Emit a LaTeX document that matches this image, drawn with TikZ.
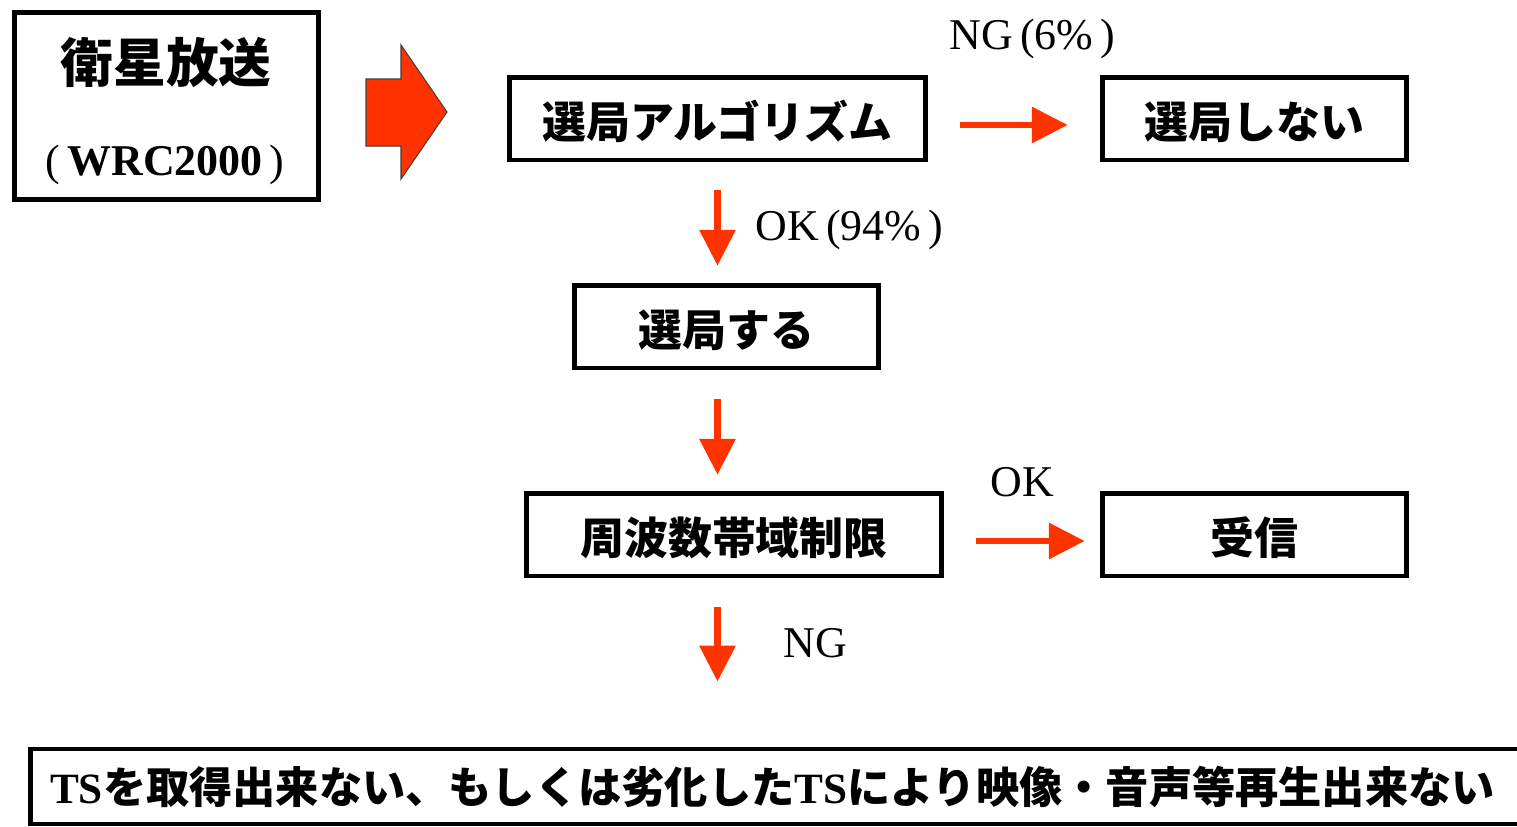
\documentclass[tikz,border=0pt]{standalone}
\usepackage{fontspec}
\setmainfont{Liberation Serif}
\newfontfamily\jp{Noto Sans CJK JP}
\usetikzlibrary{arrows.meta,calc}
\definecolor{arrred}{HTML}{FF3300}
\newcommand\latb[1]{{\rmfamily\bfseries #1}}
\begin{document}
\begin{tikzpicture}[x=0.02cm,y=-0.02cm,
  box/.style={draw=black, line width=0.09cm, inner sep=0pt, minimum height=1.65cm,
    text height=0.81cm, text depth=0cm,
    font=\jp\bfseries\fontsize{25}{30}\selectfont},
  jptext/.style={inner sep=0pt, font=\jp\bfseries\fontsize{25}{30}\selectfont},
  lbl/.style={inner sep=0pt, anchor=base, font=\rmfamily\fontsize{25}{30}\selectfont},
  redarr/.style={draw=arrred, line width=0.13cm, -{Triangle[width=0.7cm,length=0.72cm]}},
  bigarrow/.style={fill=arrred, draw=black!75, line width=0.6pt, line join=miter}
]
\useasboundingbox (0,0) rectangle (1517,826);
\clip (0,0) rectangle (1517,826);
\fill[white] (0,0) rectangle (1517,826);

% source box
\node[box, minimum width=6.09cm, minimum height=3.75cm] (src) at (166.5,106) {};
\node[jptext, font=\jp\bfseries\fontsize{30}{36}\selectfont] (srct) at (166,63) {衛星放送};
\node[inner sep=0pt, anchor=base, font=\rmfamily\fontsize{25}{30}\selectfont] (srcw) at (165,175) {(\,\textbf{WRC2000}\,)};

% big arrow
\draw[bigarrow] (366,79) -- (401,79) -- (401,45) -- (447,112) -- (401,179) -- (401,146) -- (366,146) -- cycle;

% boxes
\node[box, minimum width=8.33cm] (algo) at (717.5,118.5) {選局アルゴリズム};
\node[box, minimum width=6.09cm] (nosel) at (1254.5,118.5) {選局しない};
\node[box, minimum width=6.09cm] (sel) at (726.5,326.5) {選局する};
\node[box, minimum width=8.31cm] (freq) at (734,534.5) {周波数帯域制限};
\node[box, minimum width=6.09cm] (recv) at (1254.5,534.5) {受信};
\node[box, minimum width=30.19cm, minimum height=1.5cm] (fail) at (785.25,786.5) {};
\node[jptext, font=\jp\bfseries\fontsize{24.6}{29}\selectfont] (failt) at (772.5,787) {\latb{TS}を取得出来ない、もしくは劣化した\latb{TS}により映像・音声等再生出来ない};

% labels
\node[lbl] (ng1) at (1032.5,49.5) {NG\,(6\%\,)};
\node[lbl] (ok1) at (849.5,240) {OK\,(94\%\,)};
\node[lbl] (ok2) at (1022,496) {OK};
\node[lbl] (ng2) at (815,657) {NG};

% connectors
\draw[redarr, shorten <=0.565cm, shorten >=0.345cm] (algo.south) -- (algo.south |- sel.north);
\draw[redarr, shorten <=0.585cm, shorten >=0.325cm] (algo.south |- sel.south) -- (algo.south |- freq.north);
\draw[redarr, shorten <=0.585cm, shorten >=1.305cm] (algo.south |- freq.south) -- (algo.south |- fail.north);
\draw[redarr, shorten <=0.645cm, shorten >=0.645cm] ([yshift=-0.13cm]algo.east) -- ([yshift=-0.13cm]nosel.west);
\draw[redarr, shorten <=0.645cm, shorten >=0.305cm] ([yshift=-0.13cm]freq.east) -- ([yshift=-0.13cm]recv.west);
\end{tikzpicture}
\end{document}
